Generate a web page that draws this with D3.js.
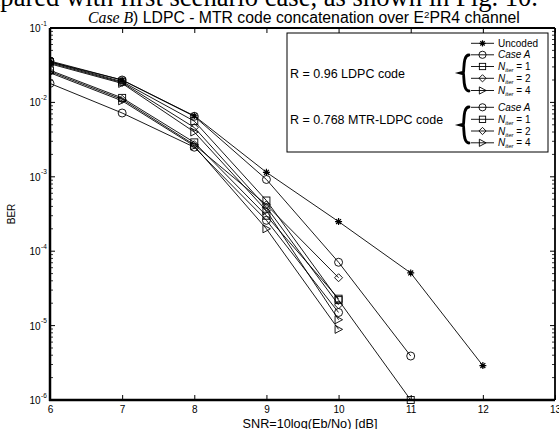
<!DOCTYPE html>
<html><head><meta charset="utf-8">
<script src="https://cdn.jsdelivr.net/npm/d3@7"></script>
<style>body{margin:0;background:#fff}svg{display:block}</style>
</head><body>
<svg id="c" width="559" height="429"></svg>
<script>
const snr = [6,7,8,9,10,11,12];
const xTicks = [6,7,8,9,10,11,12,13];
const yDecades = [-6,-5,-4,-3,-2,-1];
const uncoded   = [3.5e-2, 2.0e-2, 6.6e-3, 1.15e-3, 2.5e-4, 5.1e-5, 2.9e-6];
const ldpcCaseA = [3.6e-2, 2.0e-2, 6.5e-3, 9.2e-4, 7.1e-5, 3.9e-6];
const ldpcN1    = [3.5e-2, 1.9e-2, 5.6e-3, 4.8e-4, 2.2e-5, 1e-6];
const ldpcN2    = [3.4e-2, 1.85e-2, 4.6e-3, 3.9e-4, 1.9e-5];
const ldpcN4    = [3.3e-2, 1.8e-2, 4.0e-3, 3.5e-4, 1.2e-5];
const mtrCaseA  = [1.8e-2, 7.2e-3, 2.5e-3, 2.6e-4, 1.5e-5];
const mtrN1     = [2.7e-2, 1.15e-2, 2.9e-3, 3.0e-4, 2.3e-5];
const mtrN2     = [2.6e-2, 1.1e-2, 2.7e-3, 4.2e-4, 4.4e-5];
const mtrN4     = [2.5e-2, 1.05e-2, 2.6e-3, 2.0e-4, 8.9e-6];

const series = [
  {vals: uncoded, m: "star"},
  {vals: ldpcCaseA, m: "circle"},
  {vals: ldpcN1, m: "square"},
  {vals: ldpcN2, m: "diamond"},
  {vals: ldpcN4, m: "tri"},
  {vals: mtrCaseA, m: "circle"},
  {vals: mtrN1, m: "square"},
  {vals: mtrN2, m: "diamond"},
  {vals: mtrN4, m: "tri"}
];

const svg = d3.select("#c");
const L=50, R=555, T=28, B=400;
const x = d3.scaleLinear().domain([6,13]).range([L,R]);
const y = d3.scaleLog().domain([1e-6,1e-1]).range([B,T]);
const SANS = "Liberation Sans, Arial, sans-serif";
const SERIF = "Liberation Serif, Times New Roman, serif";

function fitFont(sel, base, target) {
  const w = sel.node().getBBox().width;
  sel.attr("font-size", base*target/w);
}

// body text clipped at top: "pared ... Fig. 10." spans about 0..538
const probe = svg.append("text").attr("font-family",SERIF).attr("font-size",25)
  .text("pared with first scenario case, as shown in Fig. 10.");
const pw = probe.node().getBBox().width; probe.remove();
svg.append("text").attr("x",538).attr("y",5.5).attr("text-anchor","end")
  .attr("font-family",SERIF).attr("font-size",25*538/pw)
  .text("compared with first scenario case, as shown in Fig. 10.");

// title, spanning about 88..520
const title = svg.append("text").attr("x",88).attr("y",22.5).attr("font-size",14)
  .attr("font-family",SANS);
title.append("tspan").attr("font-family",SERIF).attr("font-style","italic").text("Case B");
title.append("tspan").text(") LDPC - MTR code concatenation over E");
title.append("tspan").attr("font-size","0.62em").attr("dy",-5).text("2");
title.append("tspan").attr("dy",5).text("PR4 channel");
fitFont(title, 14, 432);

// markers
function marker(g, type, cx, cy, s) {
  s = s || 1;
  if (type==="circle") g.append("circle").attr("cx",cx).attr("cy",cy).attr("r",4*s).attr("fill","none").attr("stroke","#000").attr("stroke-width",0.9);
  else if (type==="square") g.append("rect").attr("x",cx-3.5*s).attr("y",cy-3.5*s).attr("width",7*s).attr("height",7*s).attr("fill","none").attr("stroke","#000").attr("stroke-width",0.9);
  else if (type==="diamond") g.append("path").attr("d",`M${cx},${cy-4*s}L${cx+4*s},${cy}L${cx},${cy+4*s}L${cx-4*s},${cy}Z`).attr("fill","none").attr("stroke","#000").attr("stroke-width",0.9);
  else if (type==="tri") g.append("path").attr("d",`M${cx-3.5*s},${cy-4*s}L${cx+4*s},${cy}L${cx-3.5*s},${cy+4*s}Z`).attr("fill","none").attr("stroke","#000").attr("stroke-width",0.9);
  else if (type==="star") {
    const r=3.5*s;
    g.append("path").attr("d",`M${cx-r},${cy}L${cx+r},${cy}M${cx},${cy-r}L${cx},${cy+r}M${cx-r*0.7},${cy-r*0.7}L${cx+r*0.7},${cy+r*0.7}M${cx-r*0.7},${cy+r*0.7}L${cx+r*0.7},${cy-r*0.7}`).attr("stroke","#000").attr("stroke-width",1.2);
  }
}

// clip
svg.append("clipPath").attr("id","pc").append("rect").attr("x",L).attr("y",T-6).attr("width",R-L).attr("height",B-T+12);
const plot = svg.append("g").attr("clip-path","url(#pc)");
const line = d3.line().x((d,i)=>x(snr[i])).y(d=>y(d));
series.forEach(s=>{
  plot.append("path").attr("d",line(s.vals)).attr("fill","none").attr("stroke","#000").attr("stroke-width",0.9);
});
series.forEach(s=>{
  s.vals.forEach((v,i)=>marker(plot, s.m, x(snr[i]), y(v)));
});

// x ticks (bottom and top, inward)
const xb = d3.axisBottom(x).tickValues(xTicks).tickSize(-5).tickFormat(d3.format("d")).tickPadding(6);
const gx = svg.append("g").attr("transform",`translate(0,${B})`).call(xb);
gx.select(".domain").remove();
gx.selectAll("text").attr("font-family",SANS).attr("font-size",10).attr("fill","#000");
gx.selectAll("line").attr("stroke","#000");
const xt = d3.axisTop(x).tickValues(xTicks).tickSize(-5).tickFormat("");
const gxt = svg.append("g").attr("transform",`translate(0,${T})`).call(xt);
gxt.select(".domain").remove();
gxt.selectAll("line").attr("stroke","#000");

// y ticks: major and minor, left and right inward
const minor = [];
yDecades.forEach(d=>{ if(d<-1) for(let k=2;k<=9;k++) minor.push(k*Math.pow(10,d)); });
const majors = yDecades.map(d=>Math.pow(10,d));
[L,R].forEach(px=>{
  const dir = px===L?1:-1;
  svg.selectAll(null).data(majors).enter().append("line")
    .attr("x1",px).attr("x2",px+dir*5).attr("y1",d=>y(d)).attr("y2",d=>y(d)).attr("stroke","#000");
  svg.selectAll(null).data(minor).enter().append("line")
    .attr("x1",px).attr("x2",px+dir*3).attr("y1",d=>y(d)).attr("y2",d=>y(d)).attr("stroke","#000").attr("stroke-width",0.8);
});
// y tick labels
yDecades.forEach(d=>{
  const yy = y(Math.pow(10,d));
  svg.append("text").attr("x",40.5).attr("y",yy+4).attr("text-anchor","end")
    .attr("font-family",SANS).attr("font-size",10).text("10");
  svg.append("text").attr("x",41).attr("y",yy-2.5)
    .attr("font-family",SANS).attr("font-size",6.5).text(String(d));
});

// frame lines
svg.append("line").attr("x1",L).attr("x2",L).attr("y1",T).attr("y2",B+1).attr("stroke","#000").attr("stroke-width",2.5);
svg.append("line").attr("x1",L-1).attr("x2",R).attr("y1",B).attr("y2",B).attr("stroke","#000").attr("stroke-width",2.5);
svg.append("line").attr("x1",L).attr("x2",R).attr("y1",T).attr("y2",T).attr("stroke","#000").attr("stroke-width",1.8);
svg.append("line").attr("x1",R).attr("x2",R).attr("y1",T).attr("y2",B).attr("stroke","#000").attr("stroke-width",1.8);

// axis labels
const xl = svg.append("text").attr("x",310).attr("y",428).attr("text-anchor","middle")
  .attr("font-family",SANS).attr("font-size",11).text("SNR=10log(Eb/No) [dB]");
fitFont(xl, 11, 135);
svg.append("text").attr("transform","translate(15,214) rotate(-90)").attr("text-anchor","middle")
  .attr("font-family",SANS).attr("font-size",10).text("BER");

// legend
const lg = svg.append("g");
lg.append("rect").attr("x",287).attr("y",33).attr("width",261).attr("height",119).attr("fill","#fff").attr("stroke","#000").attr("stroke-width",1);
const legendLabels = [
  {m:"star", t:"Uncoded"},
  {m:"circle", t:"Case A", it:true},
  {m:"square", n:"1"},
  {m:"diamond", n:"2"},
  {m:"tri", n:"4"},
  {m:"circle", t:"Case A", it:true},
  {m:"square", n:"1"},
  {m:"diamond", n:"2"},
  {m:"tri", n:"4"}
];
const legendY = [43.3, 54.8, 66.5, 78.3, 90.5, 107.3, 119.3, 131, 142.8];
legendLabels.forEach((e,i)=>{
  const yy = legendY[i];
  lg.append("line").attr("x1",471).attr("x2",494).attr("y1",yy).attr("y2",yy).attr("stroke","#000").attr("stroke-width",0.9);
  marker(lg, e.m, 482.5, yy, 0.9);
  const t = lg.append("text").attr("x",498).attr("y",yy+3.5).attr("font-family",SANS).attr("font-size",10);
  if (e.t) { t.text(e.t); if(e.it) t.attr("font-style","italic"); }
  else {
    t.append("tspan").attr("font-style","italic").text("N");
    t.append("tspan").attr("font-style","italic").attr("font-size",6).attr("dy",2).text("iter");
    t.append("tspan").attr("dy",-2).text(" = "+e.n);
  }
});
// braces
function brace(x0, y0, y1) {
  const m=(y0+y1)/2, w=6;
  const p = `M${x0+w},${y0} C${x0},${y0} ${x0+w*0.2},${m-4} ${x0+0.5},${m-1} L${x0-3},${m} L${x0+0.5},${m+1} C${x0+w*0.2},${m+4} ${x0},${y1} ${x0+w},${y1}`;
  lg.append("path").attr("d",p).attr("fill","none").attr("stroke","#000").attr("stroke-width",2.8).attr("stroke-linecap","round");
}
brace(463, 55, 91);
brace(463, 107, 143);
lg.append("text").attr("x",290).attr("y",78).attr("font-family",SANS).attr("font-size",12.5).text("R = 0.96 LDPC code");
lg.append("text").attr("x",290).attr("y",124).attr("font-family",SANS).attr("font-size",12.5).text("R = 0.768 MTR-LDPC code");
</script>
</body></html>
